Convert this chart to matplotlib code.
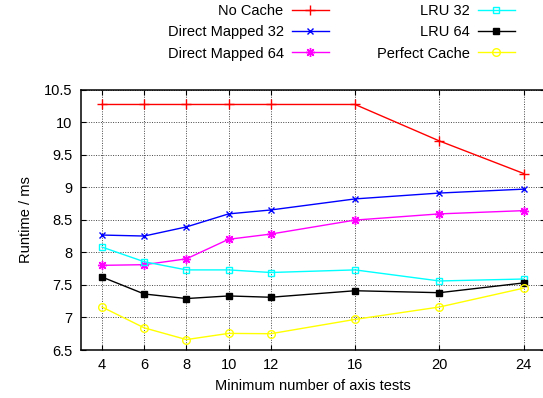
import matplotlib
matplotlib.use("Agg")
import matplotlib.pyplot as plt

plt.rcParams['font.family'] = ['Liberation Sans', 'DejaVu Sans']

x_tests = [4, 6, 8, 10, 12, 16, 20, 24]
no_cache = [10.27, 10.27, 10.27, 10.27, 10.27, 10.27, 9.71, 9.21]
dm32 = [8.265, 8.25, 8.39, 8.59, 8.65, 8.82, 8.91, 8.97]
dm64 = [7.80, 7.81, 7.90, 8.20, 8.28, 8.495, 8.59, 8.64]
lru32 = [8.08, 7.855, 7.73, 7.73, 7.69, 7.73, 7.56, 7.59]
lru64 = [7.62, 7.36, 7.29, 7.33, 7.31, 7.41, 7.38, 7.53]
perfect = [7.16, 6.84, 6.66, 6.755, 6.75, 6.97, 7.16, 7.45]
yticks = [6.5, 7, 7.5, 8, 8.5, 9, 9.5, 10, 10.5]
yticklabels = ['6.5', '7', '7.5', '8', '8.5', '9', '9.5', '10', '10.5']

W, H = 543, 398
fig = plt.figure(figsize=(W / 100, H / 100), dpi=100)
left, right, top, bottom = 81, 544.8, 89.5, 350
ax = fig.add_axes([left / W, (H - bottom) / H, (right - left) / W, (bottom - top) / H])

lw = 1.0
ax.plot(x_tests, no_cache, color='#ff0000', lw=lw, marker='+', ms=6.5, mew=1.0, label='No Cache')
ax.plot(x_tests, dm32, color='#0000ff', lw=lw, marker='x', ms=5.0, mew=1.0, label='Direct Mapped 32')
ax.plot(x_tests, dm64, color='#ff00ff', lw=lw, marker=(8, 2, 0), ms=6.5, mew=1.0, label='Direct Mapped 64')
ax.plot(x_tests, lru32, color='#00ffff', lw=lw, marker='s', ms=5.0, mew=1.0, mfc='none', label='LRU 32')
ax.plot(x_tests, lru64, color='#000000', lw=lw, marker='s', ms=5.0, mew=1.0, label='LRU 64')
ax.plot(x_tests, perfect, color='#ffff00', lw=lw, marker='o', ms=5.5, mew=1.0, mfc='none', label='Perfect Cache')

ax.set_xlim(3, 25)
ax.set_ylim(6.5, 10.5)
ax.set_xticks(x_tests)
ax.set_xticklabels([str(v) for v in x_tests])
ax.set_yticks(yticks)
ax.set_yticklabels(yticklabels)
ax.tick_params(direction='in', length=3.5, width=0.8, top=True, right=True,
               labelsize=10.5, pad=6, colors='black')
ax.grid(True, linestyle=(0, (1, 1.5)), color='#444444', lw=0.7)
for s in ax.spines.values():
    s.set_linewidth(1.1)

ax.set_xlabel('Minimum number of axis tests', fontsize=10.5, labelpad=5)
ax.set_ylabel('Runtime / ms', fontsize=10.5, labelpad=8)

leg = fig.legend(loc='upper right', bbox_to_anchor=(515 / W, (H - 4) / H), ncol=2, markerfirst=False,
                 frameon=False, fontsize=10.5, handlelength=2.55, handletextpad=0.55,
                 columnspacing=3.3, labelspacing=0.5, borderaxespad=0, borderpad=0)

fig.savefig('out.png', dpi=100)
